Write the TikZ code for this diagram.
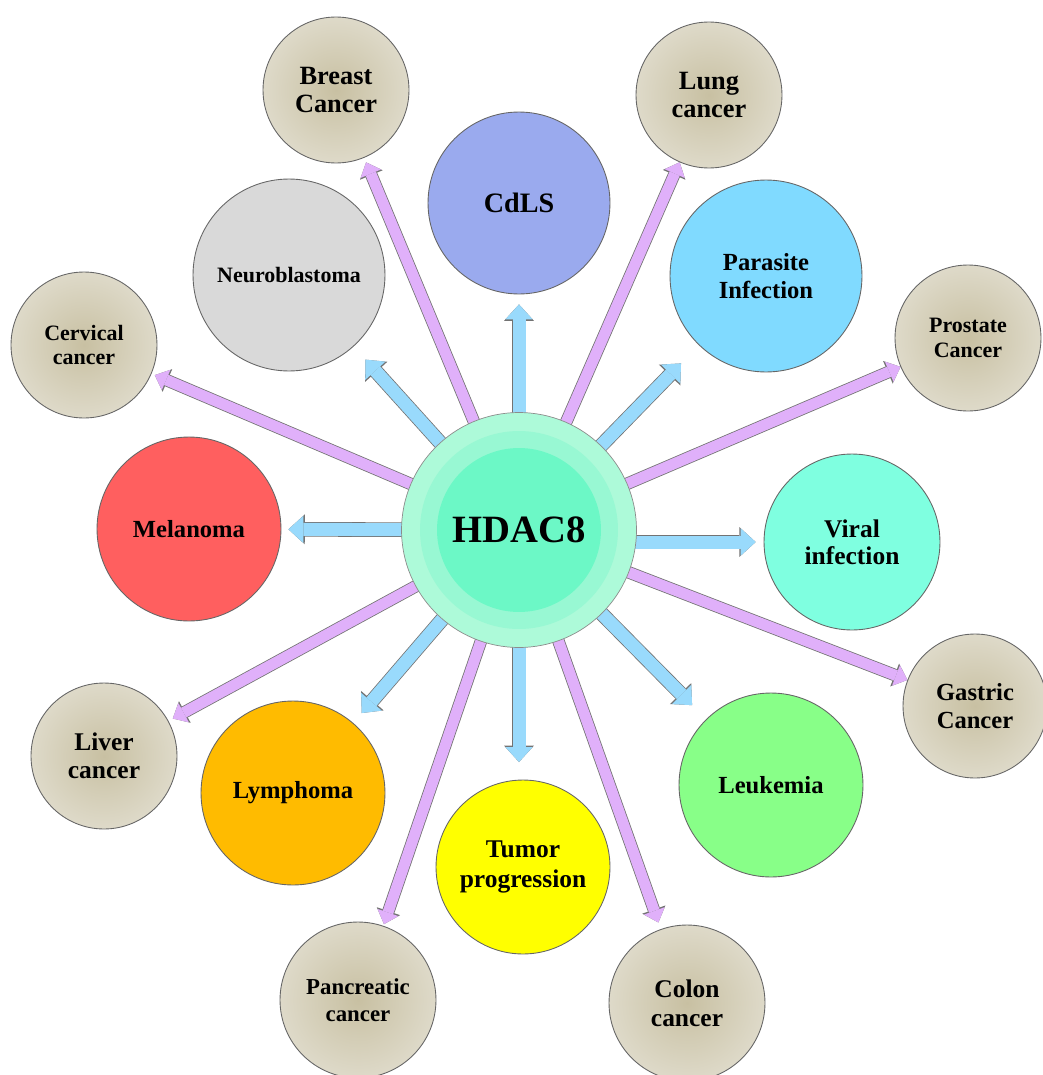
\documentclass[tikz,border=0pt]{standalone}
\usepackage{fontspec}
\setmainfont{Liberation Serif}
\usetikzlibrary{arrows.meta,backgrounds}

\definecolor{hubouter}{RGB}{173,250,217}
\definecolor{hubmid}{RGB}{152,248,211}
\definecolor{hubinner}{RGB}{108,248,198}
\definecolor{arrowblue}{RGB}{153,218,252}
\definecolor{arrowpink}{RGB}{224,176,250}
\definecolor{beigein}{RGB}{200,192,162}
\definecolor{beigeout}{RGB}{230,227,215}
\definecolor{cdlsblue}{RGB}{154,170,238}
\definecolor{neurogray}{RGB}{217,217,217}
\definecolor{parasiteblue}{RGB}{128,218,255}
\definecolor{melanomared}{RGB}{255,95,95}
\definecolor{viralaqua}{RGB}{127,255,224}
\definecolor{lymphomaorange}{RGB}{255,187,0}
\definecolor{tumoryellow}{RGB}{255,255,0}
\definecolor{leukemiagreen}{RGB}{136,255,136}

\pgfdeclareradialshading{beigeball}{\pgfpoint{0bp}{0bp}}{color(0bp)=(beigein); color(34bp)=(beigeout); color(50bp)=(beigeout)}

\newcommand\circlefont[2]{\fontsize{#1}{#2}\selectfont\bfseries}

\tikzset{
  disease/.style={circle, draw=black!60, line width=0.5pt, align=center, inner sep=0pt},
  cancer/.style={disease, shading=beigeball, minimum size=2.92cm},
  bluelink/.style={draw=arrowblue, line width=7.4pt, shorten >=#1,
    -{Triangle[width=15.5pt,length=8.5pt,line width=0pt]},
    preaction={draw=black!55, line width=8.3pt, shorten >=#1,
      -{Triangle[width=17pt,length=9.3pt,line width=0pt]}}},
  bluelink/.default=6pt,
  pinklink/.style={draw=arrowpink, line width=6.2pt, shorten >=#1,
    -{Triangle[width=12.5pt,length=7pt,line width=0pt]},
    preaction={draw=black!55, line width=7.1pt, shorten >=#1,
      -{Triangle[width=14pt,length=7.8pt,line width=0pt]}}},
  pinklink/.default=1pt
}

\begin{document}
\begin{tikzpicture}[x=0.02cm,y=-0.02cm]
  \useasboundingbox (0,0) rectangle (1042,1075);

  \node[circle, fill=hubouter, draw=black!45, line width=0.4pt, minimum size=4.7cm,
        font=\circlefont{22}{24},
        path picture={
          \fill[hubmid] (path picture bounding box.center) circle[radius=1.98cm];
          \fill[hubinner] (path picture bounding box.center) circle[radius=1.64cm];
        }] (hub) at (519,530) {HDAC8};

  \node[disease, fill=cdlsblue, minimum size=3.64cm, font=\circlefont{16}{18}] (cdls) at (519,203) {CdLS};
  \node[disease, fill=neurogray, minimum size=3.84cm, font=\circlefont{12.5}{14}] (neuro) at (289,275) {Neuroblastoma};
  \node[disease, fill=parasiteblue, minimum size=3.84cm, font=\circlefont{14}{16}] (parasite) at (766,276) {Parasite\\Infection};
  \node[disease, fill=melanomared, minimum size=3.68cm, font=\circlefont{14}{16}] (melanoma) at (189,529) {Melanoma};
  \node[disease, fill=viralaqua, minimum size=3.52cm, font=\circlefont{14.5}{15.5}] (viral) at (852,542) {Viral\\infection};
  \node[disease, fill=lymphomaorange, minimum size=3.68cm, font=\circlefont{14}{16}] (lymphoma) at (293,793) {Lymphoma};
  \node[disease, fill=tumoryellow, minimum size=3.48cm, font=\circlefont{14.5}{17}] (tumor) at (523,867) {Tumor\\progression};
  \node[disease, fill=leukemiagreen, minimum size=3.68cm, font=\circlefont{14}{16}] (leukemia) at (771,785) {Leukemia};

  \node[cancer, font=\circlefont{15}{16}] (breast) at (336,90) {Breast\\Cancer};
  \node[cancer, font=\circlefont{15}{16}] (lung) at (709,95) {Lung\\cancer};
  \node[cancer, font=\circlefont{12.5}{14}] (cervical) at (84,345) {Cervical\\cancer};
  \node[cancer, font=\circlefont{12.5}{14.5}] (prostate) at (968,338) {Prostate\\Cancer};
  \node[cancer, minimum size=2.88cm, font=\circlefont{14}{16}] (gastric) at (975,706) {Gastric\\Cancer};
  \node[cancer, font=\circlefont{14.5}{16}] (liver) at (104,756) {Liver\\cancer};
  \node[cancer, minimum size=3.12cm, font=\circlefont{13}{15}] (pancreatic) at (358,1000) {Pancreatic\\cancer};
  \node[cancer, minimum size=3.12cm, font=\circlefont{14.5}{16.5}] (colon) at (687,1003) {Colon\\cancer};

  \begin{scope}[on background layer]
    \draw[bluelink=5.7pt] (hub.center) -- (cdls);
    \draw[bluelink=10pt] (hub.center) -- (neuro);
    \draw[bluelink=14.5pt] (hub.center) -- (parasite);
    \draw[bluelink=4pt] (hub.center) -- (melanoma);
    \draw[bluelink=4.5pt] (hub.center |- viral.west) -- (viral.west);
    \draw[bluelink=7.4pt] (hub.center) -- (lymphoma);
    \draw[bluelink=10pt] (hub.center) -- (hub.center |- tumor.north);
    \draw[bluelink=11.3pt] (hub.center) -- (leukemia);

    \draw[pinklink=2.8pt] (hub.center) -- (breast);
    \draw[pinklink=0pt] (hub.center) -- (lung);
    \draw[pinklink=2pt] (hub.center) -- (cervical);
    \draw[pinklink=0pt] (hub.center) -- (prostate);
    \draw[pinklink=0pt] (hub.center) -- (gastric);
    \draw[pinklink=2.8pt] (hub.center) -- (liver);
    \draw[pinklink] (hub.center) -- (pancreatic);
    \draw[pinklink=4pt] (hub.center) -- (colon);
  \end{scope}
\end{tikzpicture}
\end{document}
